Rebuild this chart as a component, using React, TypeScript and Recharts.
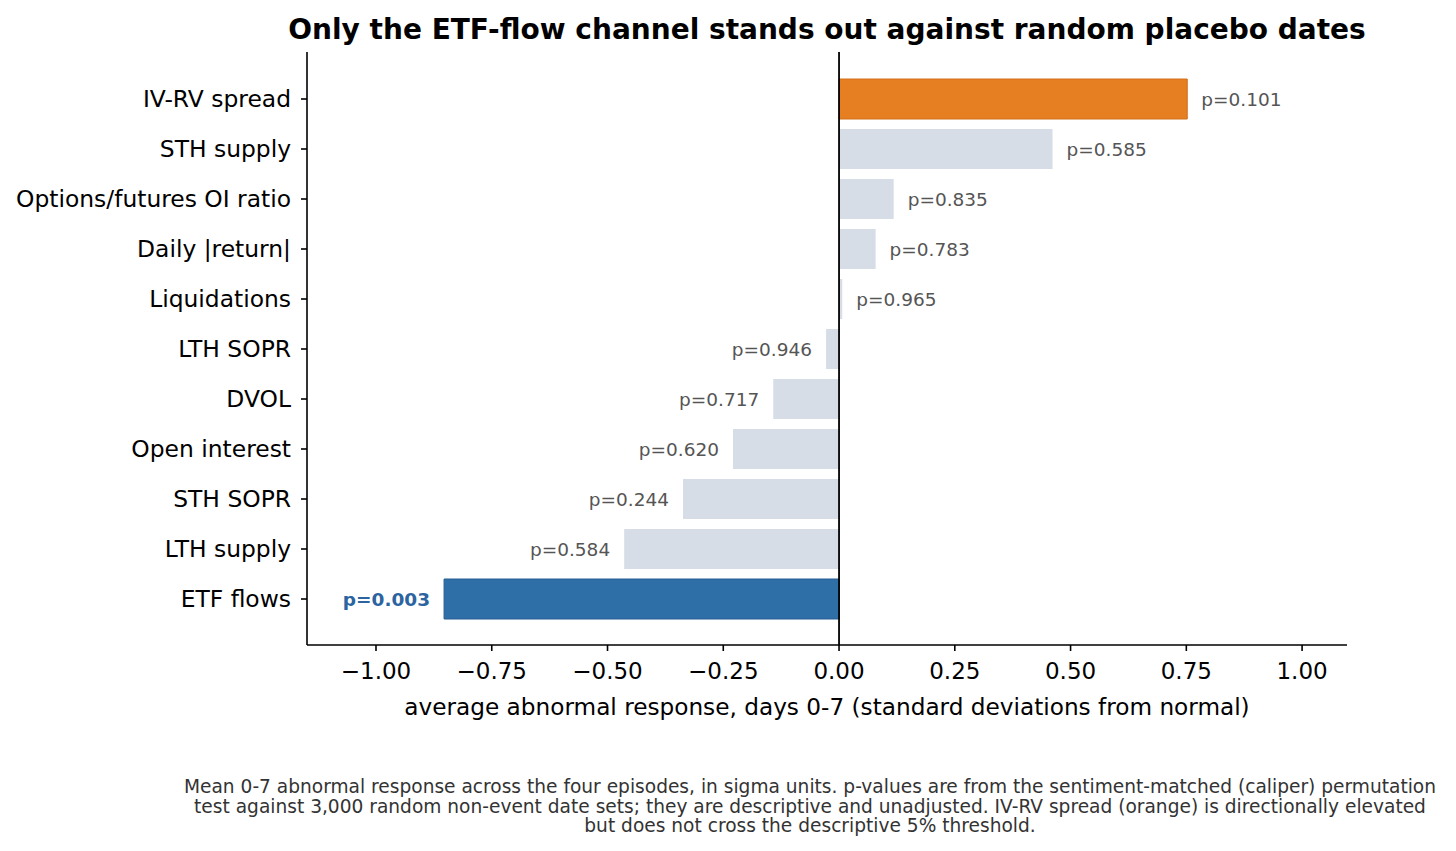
import React from "react";
import { BarChart, Bar, XAxis, YAxis, Cell, ReferenceLine, LabelList } from "recharts";

const categories = [
  "IV-RV spread",
  "STH supply",
  "Options/futures OI ratio",
  "Daily |return|",
  "Liquidations",
  "LTH SOPR",
  "DVOL",
  "Open interest",
  "STH SOPR",
  "LTH supply",
  "ETF flows",
];
const values = [0.752, 0.461, 0.118, 0.079, 0.007, -0.028, -0.142, -0.229, -0.337, -0.464, -0.853];
const pValues = ["0.101", "0.585", "0.835", "0.783", "0.965", "0.946", "0.717", "0.620", "0.244", "0.584", "0.003"];
const xTicks = [-1, -0.75, -0.5, -0.25, 0, 0.25, 0.5, 0.75, 1];

const ORANGE = "#e67e22";
const BLUE = "#2e6fa7";
const GRAY = "#d6dde6";

const data = categories.map((c, i) => ({ name: c, value: values[i], p: pValues[i] }));

const FONT = "'DejaVu Sans', sans-serif";

function barColor(i: number) {
  if (i === 0) return ORANGE;
  if (i === categories.length - 1) return BLUE;
  return GRAY;
}

function PLabel(props: any) {
  const { x, y, width, height, index } = props;
  const v = values[index];
  const x0 = Number(x);
  const w = Number(width);
  const end = v >= 0 ? Math.max(x0, x0 + w) : Math.min(x0, x0 + w);
  const isEtf = index === categories.length - 1;
  const tx = v >= 0 ? end + 14 : end - 14;
  return (
    <text
      x={tx}
      y={Number(y) + Number(height) / 2}
      textAnchor={v >= 0 ? "start" : "end"}
      dominantBaseline="central"
      fontSize={18.5}
      fontFamily={FONT}
      fontWeight={isEtf ? "bold" : "normal"}
      fill={isEtf ? "#2b64a0" : "#555555"}
    >
      {"p=" + pValues[index]}
    </text>
  );
}

const fmt = (v: number) => (v < 0 ? "\u2212" + Math.abs(v).toFixed(2) : v.toFixed(2));

export default function App() {
  return (
    <div style={{ position: "absolute", left: 0, top: 0, width: 1456, height: 851, background: "#fff", fontFamily: FONT }}>
      <div
        style={{
          position: "absolute",
          left: 0,
          width: 1654,
          top: 13,
          textAlign: "center",
          fontSize: 28,
          fontWeight: "bold",
          color: "#000",
          whiteSpace: "nowrap",
        }}
      >
        Only the ETF-flow channel stands out against random placebo dates
      </div>
      <BarChart
        width={1456}
        height={851}
        data={data}
        layout="vertical"
        margin={{ top: 52, right: 109, bottom: 146, left: 7 }}
        barSize={40}
      >
        <XAxis
          type="number"
          dataKey="value"
          domain={[-1.149, 1.097]}
          allowDataOverflow
          ticks={xTicks}
          tickFormatter={fmt}
          tick={{ fontSize: 23, fill: "#000", fontFamily: FONT }}
          tickSize={6}
          tickMargin={12}
          axisLine={{ stroke: "#000", strokeWidth: 1.6 }}
          tickLine={{ stroke: "#000", strokeWidth: 1.6 }}
          height={60}
        />
        <YAxis
          type="category"
          dataKey="name"
          width={300}
          padding={{ top: 22, bottom: 21 }}
          tick={{ fontSize: 23.4, fill: "#000", fontFamily: FONT }}
          tickSize={6}
          tickMargin={10}
          interval={0}
          axisLine={{ stroke: "#000", strokeWidth: 1.6 }}
          tickLine={{ stroke: "#000", strokeWidth: 1.6 }}
        />
        <Bar dataKey="value" isAnimationActive={false}>
          {data.map((d, i) => (
            <Cell
              key={d.name}
              fill={barColor(i)}
              stroke={i === 0 ? "#d27019" : i === categories.length - 1 ? "#275f93" : "none"}
              strokeWidth={1}
            />
          ))}
          <LabelList dataKey="value" content={PLabel} />
        </Bar>
        <ReferenceLine x={0} stroke="#000" strokeWidth={1.8} ifOverflow="extendDomain" />
      </BarChart>
      <div
        style={{
          position: "absolute",
          left: 307,
          width: 1040,
          top: 693,
          textAlign: "center",
          fontSize: 23.2,
          color: "#000",
          whiteSpace: "nowrap",
        }}
      >
        average abnormal response, days 0-7 (standard deviations from normal)
      </div>
      <div
        style={{
          position: "absolute",
          left: 0,
          width: 1620,
          top: 777,
          textAlign: "center",
          fontSize: 18.6,
          lineHeight: "19.7px",
          color: "#333",
          whiteSpace: "nowrap",
        }}
      >
        Mean 0-7 abnormal response across the four episodes, in sigma units. p-values are from the sentiment-matched (caliper) permutation
        <br />
        test against 3,000 random non-event date sets; they are descriptive and unadjusted. IV-RV spread (orange) is directionally elevated
        <br />
        but does not cross the descriptive 5% threshold.
      </div>
    </div>
  );
}
